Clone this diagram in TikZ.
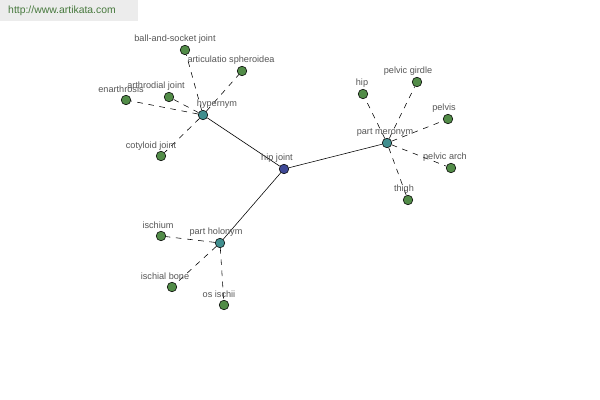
\documentclass[tikz,border=0pt]{standalone}
\usepackage{fontspec}
\setmainfont{Liberation Sans}
\definecolor{leafc}{RGB}{82,140,72}
\definecolor{hubc}{RGB}{64,142,142}
\definecolor{rootc}{RGB}{62,72,150}
\definecolor{labc}{RGB}{85,85,85}
\definecolor{wmbg}{RGB}{236,236,236}
\definecolor{wmtx}{RGB}{70,120,60}
\begin{document}
\begin{tikzpicture}[x=0.025cm,y=-0.025cm,
  dot/.style={circle,draw=black,line width=0.4pt,minimum size=6.8pt,inner sep=0pt},
  leaf/.style={dot,fill=leafc},
  hub/.style={dot,fill=hubc},
  root/.style={dot,fill=rootc},
  lab/.style={text=labc,font=\fontsize{6.5}{7}\selectfont,inner sep=0pt},
  dl/.style={dashed,dash pattern=on 4pt off 4pt,line width=0.4pt},
  sl/.style={line width=0.4pt}]
\useasboundingbox[fill=white] (0,0) rectangle (600,400);
\fill[wmbg] (0,0) rectangle (138,21);
\node[text=wmtx,font=\fontsize{7.4}{8}\selectfont,inner sep=0pt] (wm) at (62,11) {http://www.artikata.com};
% hubs
\node[root] (hj) at (284,169) {};
\node[hub] (hy) at (203,115) {};
\node[hub] (pm) at (387,143) {};
\node[hub] (ph) at (220,243) {};
% leaves
\node[leaf] (bs) at (185,50) {};
\node[leaf] (as) at (242,71) {};
\node[leaf] (aj) at (169,97) {};
\node[leaf] (en) at (126,100) {};
\node[leaf] (cj) at (161,156) {};
\node[leaf] (hp) at (363,94) {};
\node[leaf] (pg) at (417,82) {};
\node[leaf] (pv) at (448,119) {};
\node[leaf] (pa) at (451,168) {};
\node[leaf] (th) at (408,200) {};
\node[leaf] (is) at (161,236) {};
\node[leaf] (ib) at (172,287) {};
\node[leaf] (oi) at (224,305) {};
% edges
\draw[sl] (hj) -- (hy);
\draw[sl] (hj) -- (pm);
\draw[sl] (hj) -- (ph);
\foreach \l in {bs,as,aj,en,cj} \draw[dl] (hy) -- (\l);
\foreach \l in {hp,pg,pv,pa,th} \draw[dl] (pm) -- (\l);
\foreach \l in {is,ib,oi} \draw[dl] (ph) -- (\l);
% labels
\node[lab] (lhj) at (277,158) {hip joint};
\node[lab] (lhy) at (217,104) {hypernym};
\node[lab] (lpm) at (385,132) {part meronym};
\node[lab] (lph) at (216,232) {part holonym};
\node[lab] (lbs) at (175,39) {ball-and-socket joint};
\node[lab] (las) at (231,60) {articulatio spheroidea};
\node[lab] (laj) at (156,86) {arthrodial joint};
\node[lab] (len) at (121,89) {enarthrosis};
\node[lab] (lcj) at (151,146) {cotyloid joint};
\node[lab] (lhp) at (362,83) {hip};
\node[lab] (lpg) at (408,71) {pelvic girdle};
\node[lab] (lpv) at (444,108) {pelvis};
\node[lab] (lpa) at (445,157) {pelvic arch};
\node[lab] (lth) at (404,189) {thigh};
\node[lab] (lis) at (158,225) {ischium};
\node[lab] (lib) at (165,276) {ischial bone};
\node[lab] (loi) at (219,294) {os ischii};
\end{tikzpicture}
\end{document}
